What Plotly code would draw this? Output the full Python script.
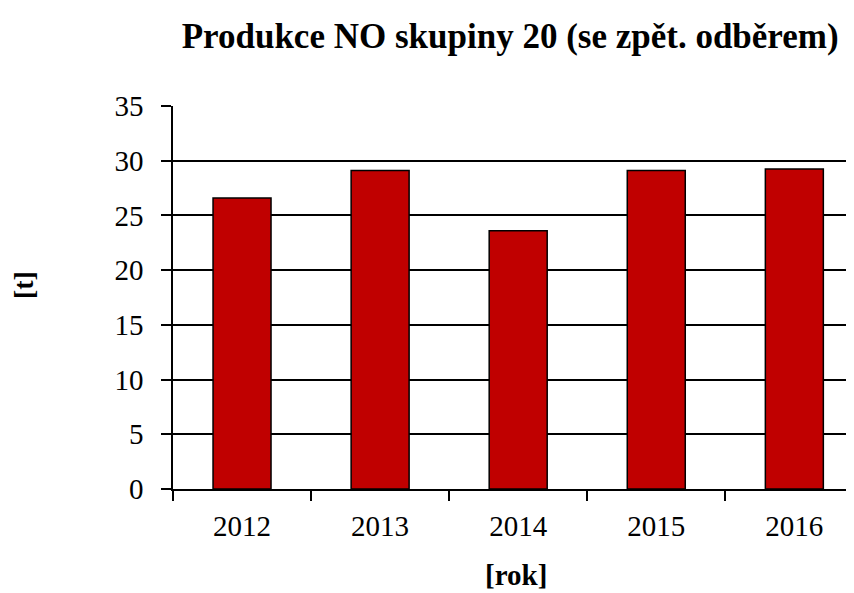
import plotly.graph_objects as go

# ── Data ──────────────────────────────────────────────────────────────────────
years = ["2012", "2013", "2014", "2015", "2016"]
tons = [26.6, 29.1, 23.6, 29.1, 29.25]
y_ticks = [0, 5, 10, 15, 20, 25, 30, 35]

SERIF = "'Liberation Serif', 'Times New Roman', serif"
INK = "#000000"
BAR = "#c00000"

fig = go.Figure(go.Bar(
    x=years,
    y=tons,
    width=0.42,
    marker=dict(color=BAR, line=dict(color=INK, width=1.5)),
))

fig.update_layout(
    width=854,
    height=593,
    paper_bgcolor="#ffffff",
    plot_bgcolor="#ffffff",
    margin=dict(l=165, r=0, t=98, b=112),
    showlegend=False,
    font=dict(family=SERIF, color=INK, size=26),
    title=dict(
        text="<b>Produkce NO skupiny 20 (se zpět. odběrem)</b>",
        font=dict(family=SERIF, size=35, color=INK),
        x=0.588, xanchor="center",
        y=0.954, yanchor="middle",
    ),
    annotations=[
        dict(
            text="<b>[t]</b>", textangle=-90,
            xref="paper", yref="paper", x=-0.216, y=0.533,
            xanchor="center", yanchor="middle", showarrow=False,
            font=dict(family=SERIF, size=28, color=INK),
        ),
        dict(
            text="<b>[rok]</b>",
            xref="paper", yref="paper", x=0.498, y=-0.225,
            xanchor="center", yanchor="middle", showarrow=False,
            font=dict(family=SERIF, size=29, color=INK),
        ),
    ],
)

fig.update_xaxes(
    range=[-0.5, 4.49],
    showgrid=False,
    showline=True, linecolor=INK, linewidth=2,
    ticks="outside", tickson="boundaries", ticklen=10,
    tickwidth=1.5, tickcolor=INK,
    ticklabelstandoff=10,
    tickfont=dict(family=SERIF, size=29, color=INK),
)

fig.update_yaxes(
    range=[0, 35],
    tickvals=y_ticks,
    showgrid=True, gridcolor=INK, gridwidth=1.5,
    zeroline=False,
    showline=True, linecolor=INK, linewidth=1.5,
    ticks="outside", ticklen=10, tickwidth=1.5, tickcolor=INK,
    ticklabelstandoff=12,
    tickfont=dict(family=SERIF, size=29, color=INK),
)

fig.write_html("out.html")
